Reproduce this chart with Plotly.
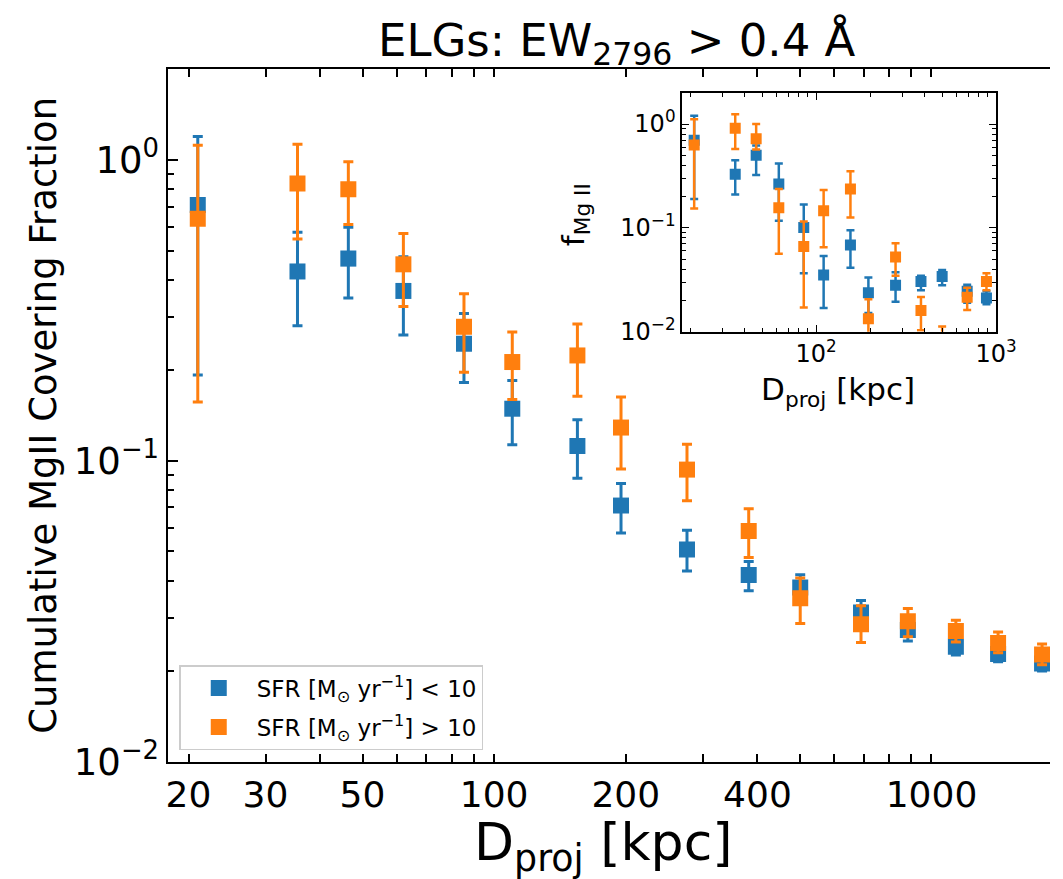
import plotly.graph_objects as go
import numpy as np

# ---------------- data ----------------
D_main = [21.0, 35.5, 46.4, 62.0, 85.3, 110, 155, 195, 276, 382, 501, 690, 883, 1137, 1420, 1790]
blue_main = [0.709, 0.426, 0.47, 0.367, 0.245, 0.149, 0.112, 0.071, 0.0507, 0.0417, 0.0379, 0.0313, 0.0274, 0.0241, 0.0228, 0.0212]
blue_main_hi = [1.197, 0.575, 0.597, 0.477, 0.309, 0.185, 0.137, 0.084, 0.0588, 0.0463, 0.0418, 0.0343, 0.030, 0.026, 0.0243, 0.0225]
blue_main_lo = [0.193, 0.281, 0.348, 0.262, 0.182, 0.113, 0.0875, 0.0575, 0.043, 0.037, 0.034, 0.0285, 0.0252, 0.0226, 0.0215, 0.020]
orange_main = [0.638, 0.836, 0.80, 0.45, 0.279, 0.213, 0.224, 0.129, 0.0935, 0.0584, 0.0349, 0.0286, 0.0293, 0.0272, 0.0248, 0.0227]
orange_main_hi = [1.119, 1.127, 0.986, 0.57, 0.359, 0.268, 0.285, 0.163, 0.1135, 0.0693, 0.0408, 0.033, 0.0323, 0.0295, 0.027, 0.0246]
orange_main_lo = [0.157, 0.546, 0.61, 0.326, 0.197, 0.16, 0.164, 0.094, 0.0736, 0.0477, 0.0288, 0.0249, 0.026, 0.025, 0.023, 0.021]

D_inset = [21.0, 35.5, 46.4, 62.0, 85.3, 110, 155, 195, 276, 382, 501, 690, 883]
blue_in = [0.70, 0.328, 0.50, 0.264, 0.101, 0.0352, 0.0683, 0.0237, 0.028, 0.0305, 0.034, 0.0245, 0.0211]
blue_in_hi = [1.20, 0.447, 0.62, 0.416, 0.168, 0.0535, 0.095, 0.0333, 0.0373, 0.0345, 0.0393, 0.0284, 0.0245]
blue_in_lo = [0.19, 0.21, 0.323, 0.117, 0.0365, 0.0169, 0.0413, 0.0151, 0.0194, 0.0251, 0.028, 0.019, 0.0184]
orange_in = [0.63, 0.91, 0.723, 0.156, 0.066, 0.146, 0.237, 0.0133, 0.0523, 0.016, 0.006, 0.0215, 0.0305]
orange_in_hi = [1.11, 1.24, 1.0, 0.237, 0.115, 0.232, 0.352, 0.0205, 0.0713, 0.0216, 0.0112, 0.0265, 0.0365]
orange_in_lo = [0.154, 0.574, 0.57, 0.0562, 0.0171, 0.065, 0.126, 0.005, 0.0345, 0.0103, 0.003, 0.0162, 0.0251]

x_tick_vals = [20, 30, 50, 100, 200, 400, 1000]
x_tick_text = ["20", "30", "50", "100", "200", "400", "1000"]
y_tick_vals = [0.01, 0.1, 1]
y_tick_text = ["10<sup>−2</sup>", "10<sup>−1</sup>", "10<sup>0</sup>"]

BLUE = "#1f77b4"
ORANGE = "#ff7f0e"
FONT = "DejaVu Sans"
W, H = 1063, 879


def errs(v, hi, lo):
    v = np.array(v); hi = np.array(hi); lo = np.array(lo)
    return (hi - v).tolist(), (v - lo).tolist()


fig = go.Figure()


def add(x, y, hi, lo, color, name, xa, ya, size, thick, capw, show, grp):
    p, m = errs(y, hi, lo)
    fig.add_trace(go.Scatter(
        x=x, y=y, mode="markers", name=name, showlegend=show, legendgroup=grp,
        xaxis=xa, yaxis=ya,
        marker=dict(symbol="square", size=size, color=color, line=dict(width=0)),
        error_y=dict(type="data", symmetric=False, array=p, arrayminus=m,
                     color=color, thickness=thick, width=capw),
    ))


lab1 = "SFR [M<sub>⊙</sub> yr<sup>−1</sup>] &lt; 10"
lab2 = "SFR [M<sub>⊙</sub> yr<sup>−1</sup>] &gt; 10"
add(D_main, blue_main, blue_main_hi, blue_main_lo, BLUE, lab1, "x", "y", 16, 3, 5, True, "a")
add(D_main, orange_main, orange_main_hi, orange_main_lo, ORANGE, lab2, "x", "y", 16, 3, 5, True, "b")
add(D_inset, blue_in, blue_in_hi, blue_in_lo, BLUE, lab1, "x2", "y2", 11, 2.5, 4, False, "c")
add(D_inset, orange_in, orange_in_hi, orange_in_lo, ORANGE, lab2, "x2", "y2", 11, 2.5, 4, False, "d")

minor_x = [40, 60, 70, 80, 90, 300, 500, 600, 700, 800, 900]
minor_y = [k * 10.0 ** e for e in (-2, -1, 0) for k in range(2, 10)]

# main axes
x0, x1 = 162 / W, 1.0
yb, yt = (H - 773) / H, (H - 63) / H
fig.update_layout(
    xaxis=dict(type="log", domain=[x0, x1], range=[np.log10(18), 3.271], anchor="y",
               showline=True, linecolor="black", linewidth=2, mirror="ticks",
               ticks="inside", ticklen=8, tickwidth=1.5, tickcolor="black",
               tickmode="array", tickvals=x_tick_vals, ticktext=x_tick_text,
               tickfont=dict(family=FONT, size=36, color="black"),
               showgrid=False, zeroline=False,
               minor=dict(ticks="inside", ticklen=8, tickwidth=1.5, tickcolor="black",
                          tickvals=minor_x, showgrid=False)),
    yaxis=dict(type="log", domain=[yb, yt], range=[-2, np.log10(2.0)], anchor="x",
               showline=True, linecolor="black", linewidth=2, mirror=False,
               ticks="inside", ticklen=10, tickwidth=1.5, tickcolor="black",
               tickmode="array", tickvals=y_tick_vals, ticktext=y_tick_text,
               tickfont=dict(family=FONT, size=37, color="black"),
               showgrid=False, zeroline=False,
               minor=dict(ticks="inside", ticklen=6, tickwidth=1.5, tickcolor="black",
                          tickvals=minor_y, showgrid=False)),
)

# inset axes
ix0, ix1 = 687 / W, 1008 / W
iyb, iyt = (H - 332) / H, (H - 87) / H
fig.update_layout(
    xaxis2=dict(type="log", domain=[ix0, ix1], range=[np.log10(18), 3], anchor="y2",
                showline=True, linecolor="black", linewidth=1.5, mirror="ticks",
                ticks="inside", ticklen=7, tickwidth=1.2, tickcolor="black",
                tickmode="array", tickvals=[100, 1000],
                ticktext=["10<sup>2</sup>", "10<sup>3</sup>"],
                tickfont=dict(family=FONT, size=24, color="black"),
                showgrid=False, zeroline=False,
                minor=dict(ticks="inside", ticklen=4, tickwidth=1.2, tickcolor="black",
                           tickvals=[20, 30, 40, 50, 60, 70, 80, 90, 200, 300, 400, 500, 600, 700, 800, 900],
                           showgrid=False)),
    yaxis2=dict(type="log", domain=[iyb, iyt], range=[-2, np.log10(2.0)], anchor="x2",
                showline=True, linecolor="black", linewidth=1.5, mirror="ticks",
                ticks="inside", ticklen=7, tickwidth=1.2, tickcolor="black",
                tickmode="array", tickvals=y_tick_vals, ticktext=y_tick_text,
                tickfont=dict(family=FONT, size=24, color="black"),
                showgrid=False, zeroline=False,
                minor=dict(ticks="inside", ticklen=4, tickwidth=1.2, tickcolor="black",
                           tickvals=minor_y, showgrid=False)),
)

ann = [
    dict(text="ELGs: EW<sub>2796</sub> &gt; 0.4 Å", x=620 / W, y=(H - 36) / H, size=45, angle=0),
    dict(text="Cumulative MgII Covering Fraction", x=34 / W, y=(H - 418) / H, size=37, angle=-90),
    dict(text="D<sub>proj</sub> [kpc]", x=607 / W, y=(H - 860) / H, size=52, angle=0),
    dict(text="D<sub>proj</sub> [kpc]", x=846 / W, y=(H - 393) / H, size=31, angle=0),
    dict(text="f<sub>Mg II</sub>", x=578 / W, y=(H - 212) / H, size=31, angle=-90),
]
fig.update_layout(annotations=[
    dict(text=a["text"], x=a["x"], y=a["y"], xref="paper", yref="paper",
         xanchor="center", yanchor="middle", showarrow=False, textangle=a["angle"],
         font=dict(family=FONT, size=a["size"], color="black"))
    for a in ann
])

fig.update_layout(
    width=W, height=H, margin=dict(l=0, r=0, t=0, b=0),
    paper_bgcolor="white", plot_bgcolor="white",
    font=dict(family=FONT, color="black"),
    legend=dict(x=173 / W, y=(H - 674) / H, xanchor="left", yanchor="top",
                bgcolor="white", bordercolor="#cccccc", borderwidth=1.5,
                itemwidth=66, tracegroupgap=6,
                font=dict(family=FONT, size=23, color="black")),
)

fig.write_html("out.html")
